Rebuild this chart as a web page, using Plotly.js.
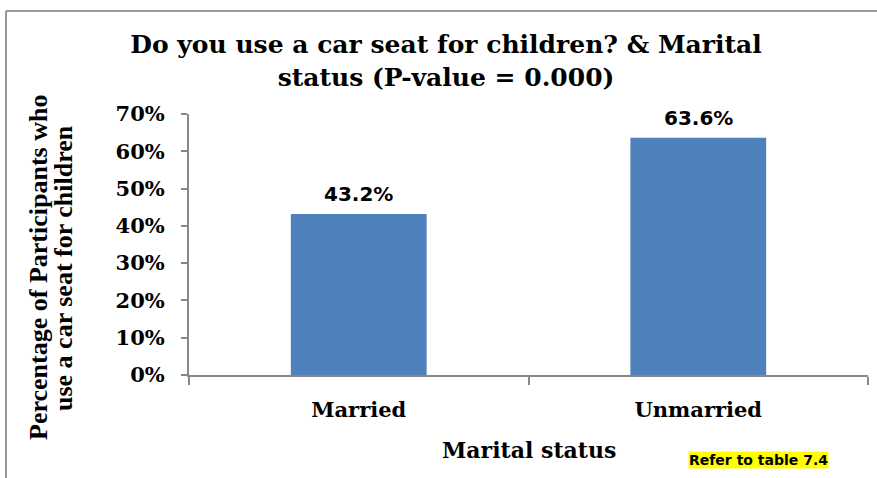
<!DOCTYPE html>
<html>
<head>
<meta charset="utf-8">
<script src="https://cdn.plot.ly/plotly-3.0.1.min.js"></script>
<style>html,body{margin:0;padding:0;background:#fff;}#chart{width:877px;height:478px;}</style>
</head>
<body>
<div id="chart"></div>
<script>
const categories = ["Married", "Unmarried"];
const values = [0.432, 0.636];
const yTickVals = [0, 0.1, 0.2, 0.3, 0.4, 0.5, 0.6, 0.7];

const serif = "DejaVu Serif, Liberation Serif, serif";
const bar = {
  type: "bar",
  x: categories,
  y: values,
  marker: {color: "#4f81bd"},
  width: 0.4,
  hoverinfo: "skip"
};

const W = 877, H = 478, L = 189, R = 9, T = 114, B = 103;
const pw = W - L - R, ph = H - T - B;
const px = x => (x - L) / pw;
const py = y => (H - B - y) / ph;

const dataLabels = categories.map((c, i) => ({
  text: "<b>" + (values[i] * 100).toFixed(1) + "%</b>",
  xref: "x", yref: "y", x: c, y: values[i],
  xanchor: "center", yanchor: "middle", yshift: 20,
  showarrow: false,
  font: {family: "DejaVu Sans, sans-serif", size: 20, color: "#000"}
}));

const layout = {
  width: W, height: H,
  margin: {l: L, r: R, t: T, b: B},
  paper_bgcolor: "#fff", plot_bgcolor: "#fff",
  showlegend: false,
  title: {
    text: "<b>Do you use a car seat for children? & Marital<br>status (P-value = 0.000)</b>",
    font: {family: serif, size: 25, color: "#000"},
    x: 446 / W, xanchor: "center", xref: "container",
    y: 1 - 53 / H, yanchor: "middle", yref: "container"
  },
  xaxis: {
    type: "category",
    showline: true, linecolor: "#888", linewidth: 2,
    ticks: "outside", tickson: "boundaries", ticklen: 8, tickcolor: "#888", tickwidth: 2,
    ticklabelstandoff: 15,
    tickfont: {family: serif, size: 21, color: "#000", weight: "bold"},
    showgrid: false, zeroline: false, fixedrange: true
  },
  yaxis: {
    range: [0, 0.7],
    tickvals: yTickVals, tickformat: ".0%",
    showline: true, linecolor: "#888", linewidth: 2,
    ticks: "outside", ticklen: 6, tickcolor: "#888", tickwidth: 2,
    ticklabelstandoff: 12,
    tickfont: {family: serif, size: 21, color: "#000", weight: "bold"},
    showgrid: false, zeroline: false, fixedrange: true
  },
  annotations: dataLabels.concat([
    {
      text: "<b>Marital status</b>",
      xref: "paper", yref: "paper",
      x: px(529), y: py(450), xanchor: "center", yanchor: "middle",
      showarrow: false,
      font: {family: serif, size: 22, color: "#000"}
    },
    {
      text: "<b>Percentage of Participants who</b>",
      textangle: -90, xref: "paper", yref: "paper",
      x: px(38), y: py(268), xanchor: "center", yanchor: "middle",
      showarrow: false,
      font: {family: "Liberation Serif, serif", size: 26, color: "#000"}
    },
    {
      text: "<b>use a car seat for children</b>",
      textangle: -90, xref: "paper", yref: "paper",
      x: px(63), y: py(268), xanchor: "center", yanchor: "middle",
      showarrow: false,
      font: {family: "Liberation Serif, serif", size: 26, color: "#000"}
    },
    {
      text: "<b>Refer to table 7.4</b>",
      xref: "paper", yref: "paper",
      x: px(758), y: py(460), xanchor: "center", yanchor: "middle",
      showarrow: false, bgcolor: "#ffff00", borderpad: 0,
      font: {family: "DejaVu Sans, sans-serif", size: 14, color: "#000"}
    }
  ]),
  shapes: [
    {type: "line", xref: "paper", yref: "paper", x0: px(6), x1: px(900), y0: py(11), y1: py(11), line: {color: "#999", width: 2}},
    {type: "line", xref: "paper", yref: "paper", x0: px(6), x1: px(6), y0: py(11), y1: py(500), line: {color: "#999", width: 2}}
  ]
};

Plotly.newPlot("chart", [bar], layout, {displayModeBar: false, staticPlot: true});
</script>
</body>
</html>
